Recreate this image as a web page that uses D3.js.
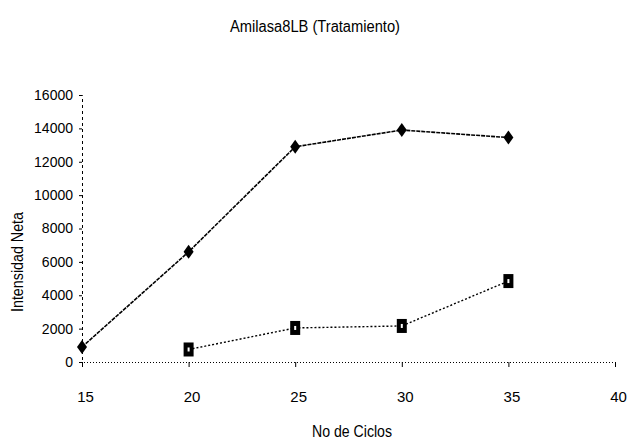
<!DOCTYPE html>
<html>
<head>
<meta charset="utf-8">
<script src="https://cdn.jsdelivr.net/npm/d3@7"></script>
<style>
  body { margin: 0; background: #fff; }
  text { font-family: "Liberation Sans", Arial, sans-serif; fill: #000; }
</style>
</head>
<body>
<svg id="chart" width="632" height="442"></svg>
<script>
// data
const ciclos = [15, 20, 25, 30, 35];
const tratamiento = [900, 6600, 12900, 13900, 13450];
const ciclosControl = [20, 25, 30, 35];
const control = [750, 2040, 2160, 4850];
const xTicks = [15, 20, 25, 30, 35, 40];
const yTicks = [0, 2000, 4000, 6000, 8000, 10000, 12000, 14000, 16000];

const svg = d3.select("#chart");

const x = d3.scaleLinear().domain([15, 40]).range([82, 615]);
const y = d3.scaleLinear().domain([0, 16000]).range([362, 95]);

// title
svg.append("text")
   .attr("x", 315).attr("y", 32)
   .attr("text-anchor", "middle")
   .attr("font-size", 16)
   .attr("textLength", 170).attr("lengthAdjust", "spacingAndGlyphs")
   .text("Amilasa8LB (Tratamiento)");

// x axis
var xAxis = svg.append("g")
               .attr("transform", "translate(0," + y(0) + ")")
               .call(d3.axisBottom(x).tickValues(xTicks).tickSize(5).tickPadding(24));
xAxis.select(".domain").attr("stroke", "#000").attr("stroke-dasharray", "1,2");
xAxis.selectAll(".tick line").attr("stroke", "#000");
xAxis.selectAll(".tick text")
     .attr("font-size", 15)
     .attr("dx", 3)
     .attr("font-family", "Liberation Sans, Arial, sans-serif");

// y axis
var yAxis = svg.append("g")
               .attr("transform", "translate(" + x(15) + ",0)")
               .call(d3.axisLeft(y).tickValues(yTicks).tickFormat(d3.format("d")).tickSize(3).tickPadding(6));
yAxis.select(".domain").attr("stroke", "#000").attr("stroke-dasharray", "3,3");
yAxis.selectAll(".tick line").attr("stroke", "#000");
yAxis.selectAll(".tick text")
     .attr("font-size", 14)
     .attr("font-family", "Liberation Sans, Arial, sans-serif");

// axis titles
svg.append("text")
   .attr("x", 352).attr("y", 437)
   .attr("text-anchor", "middle")
   .attr("font-size", 16)
   .attr("textLength", 80).attr("lengthAdjust", "spacingAndGlyphs")
   .text("No de Ciclos");

svg.append("text")
   .attr("transform", "translate(23,262) rotate(-90)")
   .attr("text-anchor", "middle")
   .attr("font-size", 16)
   .attr("textLength", 100).attr("lengthAdjust", "spacingAndGlyphs")
   .text("Intensidad Neta");

// lines
var line1 = d3.line().x(function (d, i) { return x(ciclos[i]); }).y(function (d) { return y(d); });
var line2 = d3.line().x(function (d, i) { return x(ciclosControl[i]); }).y(function (d) { return y(d); });

svg.append("path")
   .attr("d", line1(tratamiento))
   .attr("fill", "none")
   .attr("stroke", "#000")
   .attr("stroke-width", 1.6)
   .attr("stroke-dasharray", "4,1");

svg.append("path")
   .attr("d", line2(control))
   .attr("fill", "none")
   .attr("stroke", "#000")
   .attr("stroke-width", 1.4)
   .attr("stroke-dasharray", "2,2");

// diamond markers
svg.selectAll(".diamond")
   .data(tratamiento)
   .enter().append("path")
   .attr("class", "diamond")
   .attr("transform", function (d, i) { return "translate(" + x(ciclos[i]) + "," + y(d) + ")"; })
   .attr("d", "M0,-7L5,0L0,7L-5,0Z")
   .attr("fill", "#000");

// square markers
var sq = svg.selectAll(".square")
            .data(control)
            .enter().append("g")
            .attr("class", "square")
            .attr("transform", function (d, i) { return "translate(" + x(ciclosControl[i]) + "," + y(d) + ")"; });
sq.append("rect")
  .attr("x", -5).attr("y", -7).attr("width", 10).attr("height", 14)
  .attr("fill", "#000");
sq.append("rect")
  .attr("x", -1).attr("y", -2).attr("width", 2).attr("height", 4)
  .attr("fill", "#fff");
</script>
</body>
</html>
